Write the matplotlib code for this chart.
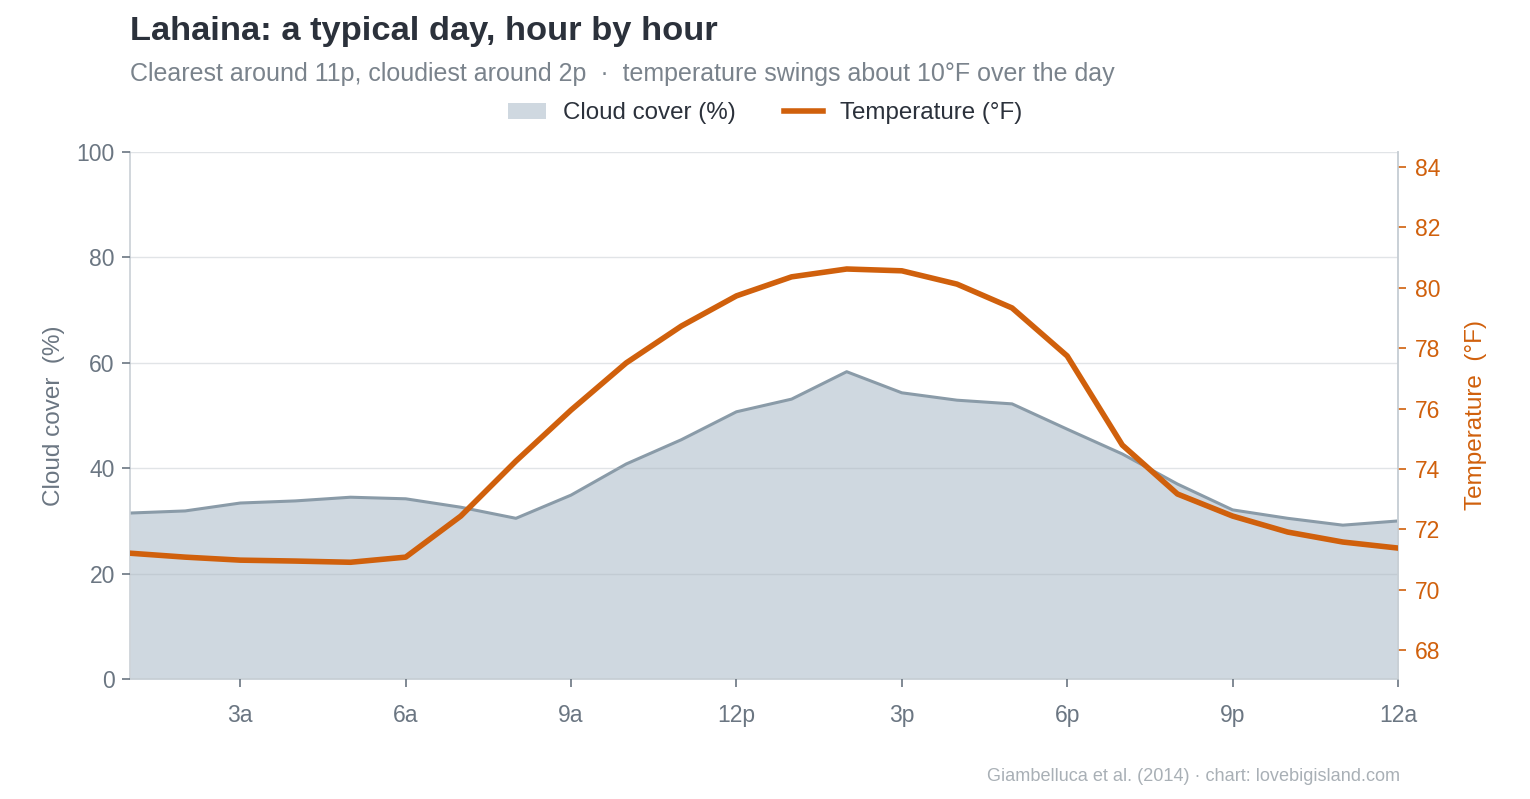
import numpy as np
import matplotlib.pyplot as plt
from matplotlib.patches import Patch
from matplotlib.lines import Line2D

plt.rcParams['font.family'] = ['Liberation Sans', 'DejaVu Sans']

# hours 1..24 (1a .. 12a)
hours = list(range(1, 25))
cloud = [31.5, 31.9, 33.4, 33.8, 34.5, 34.2, 32.6, 30.5, 34.9, 40.8, 45.4, 50.7,
         53.1, 58.3, 54.3, 52.9, 52.2, 47.4, 42.7, 37.0, 32.1, 30.5, 29.2, 30.0]
temp = [71.21, 71.08, 70.98, 70.95, 70.91, 71.08, 72.44, 74.26, 75.95, 77.51, 78.73, 79.73,
        80.36, 80.62, 80.56, 80.12, 79.33, 77.74, 74.79, 73.17, 72.44, 71.91, 71.58, 71.38]
tick_hours = [3, 6, 9, 12, 15, 18, 21, 24]
tick_labels = ["3a", "6a", "9a", "12p", "3p", "6p", "9p", "12a"]

ORANGE = "#d0600c"
FILL = "#cfd8e0"
CLOUD_LINE = "#8a9ba8"
GREY_TXT = "#6b7682"
SPINE = "#c9d0d6"

fig = plt.figure(figsize=(15.3, 7.99), dpi=100)
ax = fig.add_axes([0.085, 0.150, 0.8287, 0.660])

ax.fill_between(hours, 0, cloud, color=FILL, lw=0, zorder=1)
ax.plot(hours, cloud, color=CLOUD_LINE, lw=2.2, zorder=2)
ax.set_xlim(1, 24)
ax.set_ylim(0, 100)
ax.set_yticks([0, 20, 40, 60, 80, 100])
ax.grid(axis='y', color="#aab3bc", alpha=0.35, lw=1, zorder=3)
ax.set_axisbelow(False)
ax.set_xticks(tick_hours)
ax.set_xticklabels(tick_labels)
ax.tick_params(axis='both', colors=GREY_TXT, labelsize=16.5, length=6, width=1.2)
ax.tick_params(axis='x', pad=12)
ax.tick_params(axis='y', pad=5)
ax.spines['top'].set_visible(False)
for s in ['left', 'bottom', 'right']:
    ax.spines[s].set_color(SPINE)
    ax.spines[s].set_linewidth(1.2)
ax.set_ylabel("Cloud cover  (%)", color=GREY_TXT, fontsize=17.5, labelpad=8)

ax2 = ax.twinx()
ax2.plot(hours, temp, color=ORANGE, lw=4, zorder=5)
ax2.set_ylim(67.04, 84.5)
ax2.set_yticks([68, 70, 72, 74, 76, 78, 80, 82, 84])
ax2.tick_params(axis='y', colors=ORANGE, labelsize=16.5, length=6, width=1.2, pad=6)
for s in ['top', 'left', 'bottom']:
    ax2.spines[s].set_visible(False)
ax2.spines['right'].set_color(SPINE)
ax2.spines['right'].set_linewidth(1.2)
ax2.set_ylabel("Temperature  (°F)", color=ORANGE, fontsize=17.5, labelpad=18)

fig.text(0.085, 0.980, "Lahaina: a typical day, hour by hour", fontsize=24.8,
         fontweight='bold', color="#2b313b", va='top')
fig.text(0.085, 0.922, "Clearest around 11p, cloudiest around 2p  ·  temperature swings about 10°F over the day",
         fontsize=18, color="#7a838c", va='top')

handles = [Patch(facecolor=FILL, edgecolor='none', label="Cloud cover (%)"),
           Line2D([0], [0], color=ORANGE, lw=4, label="Temperature (°F)")]
leg = fig.legend(handles=handles, loc='center', bbox_to_anchor=(0.5, 0.858), ncol=2,
                 frameon=False, fontsize=17.4, handlelength=1.6, handleheight=0.7,
                 columnspacing=2.0, handletextpad=0.7)
for t in leg.get_texts():
    t.set_color("#2b313b")

fig.text(0.915, 0.018, "Giambelluca et al. (2014) · chart: lovebigisland.com",
         fontsize=13.1, color="#a9b0b6", ha='right', va='bottom')

fig.savefig("out.png", dpi=100)
